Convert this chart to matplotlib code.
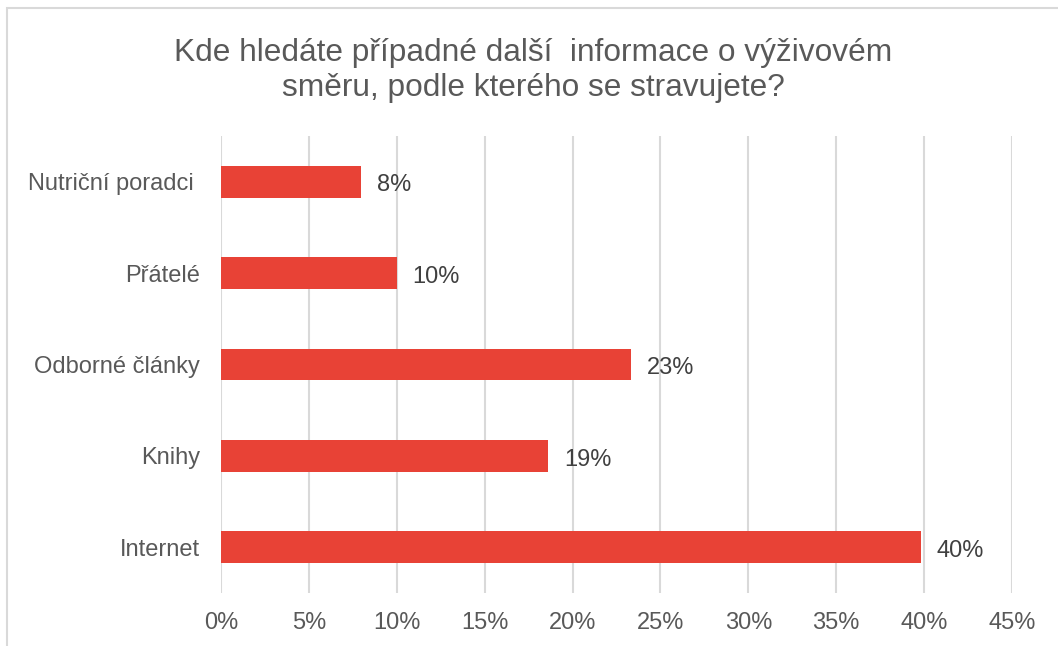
import matplotlib
matplotlib.use("Agg")
import matplotlib.pyplot as plt
from matplotlib.patches import Rectangle

categories = ["Internet", "Knihy", "Odborné články", "Přátelé", "Nutriční poradci "]
values = [39.8, 18.6, 23.3, 10.0, 7.95]
labels = ["40%", "19%", "23%", "10%", "8%"]
xticks = [0, 5, 10, 15, 20, 25, 30, 35, 40, 45]
title = "Kde hledáte případné další  informace o výživovém\nsměru, podle kterého se stravujete?"

W, H = 1058, 646
plt.rcParams['font.family'] = ['Liberation Sans', 'DejaVu Sans']
fig = plt.figure(figsize=(W / 100, H / 100), dpi=100)

# outer chart frame (cropped at right/bottom)
fig.patches.append(Rectangle((7 / W, -0.1), 1.2, 1 - 8 / H + 0.1, transform=fig.transFigure,
                             fill=False, edgecolor="#D9D9D9", linewidth=1.5))

left, right = 221 / W, 1012 / W
top, bottom = 1 - 136 / H, 1 - 593 / H
ax = fig.add_axes([left, bottom, right - left, top - bottom])

bar_color = "#E84236"
ypos = list(range(len(categories)))
ax.barh(ypos, values, height=0.35, color=bar_color, zorder=3)
for y, v, lab in zip(ypos, values, labels):
    ax.text(v + 0.9, y - 0.04, lab, va="center", ha="left", fontsize=17, color="#404040")

ax.set_xlim(0, 45)
ax.set_ylim(-0.5, len(categories) - 0.5)
ax.set_xticks(xticks)
ax.set_xticklabels([f"{t}%" for t in xticks], fontsize=17, color="#595959")
ax.set_yticks(ypos)
ax.set_yticklabels(categories, fontsize=17, color="#595959")
ax.tick_params(axis="both", length=0)
ax.tick_params(axis="x", pad=14)
ax.tick_params(axis="y", pad=15)
ax.grid(axis="x", color="#D9D9D9", linewidth=1.5, zorder=0)
for s in ax.spines.values():
    s.set_visible(False)

fig.text((173 + 893) / 2 / W, 1 - 38 / H, title, ha="center", va="top",
         fontsize=22.8, color="#595959", linespacing=1.2)

fig.savefig("out.png", dpi=100)
